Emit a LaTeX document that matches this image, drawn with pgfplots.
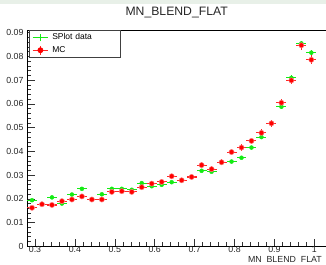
\documentclass[border=0pt]{standalone}
\usepackage{pgfplots}
\usepackage{pgfplotstable}
\pgfplotsset{compat=1.18}
\usepackage{fontspec}
\setmainfont{Liberation Sans}
\definecolor{rgreen}{RGB}{20,235,20}
\definecolor{rred}{RGB}{255,0,0}
\definecolor{topband}{RGB}{232,240,232}

\pgfplotstableread{
x y ex ey
0.2925 0.0194 0.0125 0.00052
0.3175 0.0178 0.0125 0.00049
0.3425 0.0206 0.0125 0.00053
0.3675 0.0180 0.0125 0.00050
0.3925 0.0218 0.0125 0.00055
0.4175 0.0242 0.0125 0.00058
0.4425 0.0198 0.0125 0.00052
0.4675 0.0219 0.0125 0.00055
0.4925 0.0242 0.0125 0.00058
0.5175 0.0242 0.0125 0.00058
0.5425 0.0238 0.0125 0.00057
0.5675 0.0266 0.0125 0.00060
0.5925 0.0253 0.0125 0.00059
0.6175 0.0259 0.0125 0.00060
0.6425 0.0270 0.0125 0.00061
0.6675 0.0278 0.0125 0.00062
0.6925 0.0292 0.0125 0.00063
0.7175 0.0318 0.0125 0.00066
0.7425 0.0314 0.0125 0.00066
0.7675 0.0353 0.0125 0.00070
0.7925 0.0357 0.0125 0.00070
0.8175 0.0373 0.0125 0.00071
0.8425 0.0416 0.0125 0.00075
0.8675 0.0460 0.0125 0.00079
0.8925 0.0518 0.0125 0.00084
0.9175 0.0588 0.0125 0.00090
0.9425 0.0710 0.0125 0.00099
0.9675 0.0855 0.0125 0.00108
0.9925 0.0816 0.0125 0.00106
}\greendata

\pgfplotstableread{
x y ex ey
0.2925 0.0162 0.0125 0.00083
0.3175 0.0177 0.0125 0.00086
0.3425 0.0174 0.0125 0.00086
0.3675 0.0190 0.0125 0.00090
0.3925 0.0197 0.0125 0.00091
0.4175 0.0210 0.0125 0.00094
0.4425 0.0197 0.0125 0.00091
0.4675 0.0197 0.0125 0.00091
0.4925 0.0229 0.0125 0.00098
0.5175 0.0232 0.0125 0.00099
0.5425 0.0229 0.0125 0.00098
0.5675 0.0249 0.0125 0.00103
0.5925 0.0264 0.0125 0.00106
0.6175 0.0271 0.0125 0.00107
0.6425 0.0295 0.0125 0.00112
0.6675 0.0278 0.0125 0.00108
0.6925 0.0292 0.0125 0.00111
0.7175 0.0342 0.0125 0.00120
0.7425 0.0325 0.0125 0.00117
0.7675 0.0354 0.0125 0.00122
0.7925 0.0397 0.0125 0.00130
0.8175 0.0416 0.0125 0.00133
0.8425 0.0444 0.0125 0.00137
0.8675 0.0478 0.0125 0.00142
0.8925 0.0518 0.0125 0.00148
0.9175 0.0605 0.0125 0.00160
0.9425 0.0699 0.0125 0.00172
0.9675 0.0847 0.0125 0.00189
0.9925 0.0786 0.0125 0.00182
}\reddata

\begin{document}
\begin{tikzpicture}
\begin{axis}[
  name=a,
  scale only axis,
  width=299pt, height=216pt,
  xmin=0.28, xmax=1.03, ymin=0, ymax=0.09114,
  xtick={0.3,0.4,0.5,0.6,0.7,0.8,0.9,1},
  ytick={0,0.01,0.02,0.03,0.04,0.05,0.06,0.07,0.08,0.09},
  minor x tick num=4, minor y tick num=4,
  tick align=inside, tick pos=left,
  major tick length=7.5pt, minor tick length=4pt,
  scaled x ticks=false, scaled y ticks=false,
  /pgf/number format/assume math mode=true,
  xticklabel style={yshift=3.6pt, /pgf/number format/.cd, fixed, precision=1},
  yticklabel style={/pgf/number format/.cd, fixed, precision=2},
  ticklabel style={font=\fontsize{8.8}{10}\selectfont, text=black!85},
  axis line style={line width=0.5pt, black},
  every tick/.style={black!80, line width=0.5pt},
  xlabel={MN\phantom{\_}BLEND\phantom{\_}FLAT},
  xlabel style={at={(rel axis cs:1,0)}, anchor=base east, yshift=-16.4pt, xshift=-1pt, font=\fontsize{8.8}{10}\selectfont, text=black!85},
  title={MN\_BLEND\_FLAT},
  title style={at={(rel axis cs:0.5,1)}, anchor=base, yshift=8.5pt, font=\fontsize{12.2}{14}\selectfont, text=black!85},
  legend style={at={(rel axis cs:0.0057,1)}, anchor=north west, draw=black!75, line width=0.6pt, fill=white,
    inner xsep=3pt, inner ysep=1.5pt, row sep=1pt, column sep=1.5pt,
    font=\fontsize{8.5}{10}\selectfont,
    nodes={inner sep=2pt, text width=63pt, align=left}},
  legend cell align=left,
]
\addplot[only marks, mark=none, rgreen,
  legend image code/.code={
    \draw[rgreen, line width=0.9pt] (0pt,0pt) -- (15.6pt,0pt);
    \draw[rgreen, line width=0.9pt] (7.8pt,-3.5pt) -- (7.8pt,3.5pt);},
  error bars/.cd, x dir=both, x explicit, y dir=both, y explicit,
  error mark=none, error bar style={line width=0.9pt, rgreen}]
  table[x=x, y=y, x error=ex, y error=ey] {\greendata};
\addlegendentry{SPlot data}
\addplot[only marks, mark=*, mark size=2.6pt, mark options={fill=rred, draw=rred!50, line width=0.5pt}, rred,
  legend image code/.code={
    \draw[rred!85, line width=1.1pt] (0pt,0pt) -- (15.6pt,0pt);
    \draw[rred!85, line width=1.1pt] (7.8pt,-4.5pt) -- (7.8pt,4.5pt);
    \fill[rred] (7.8pt,0pt) circle (2.6pt);},
  error bars/.cd, x dir=both, x explicit, y dir=both, y explicit,
  error mark=none, error bar style={line width=1.1pt, rred!85}]
  table[x=x, y=y, x error=ex, y error=ey] {\reddata};
\addlegendentry{MC}
\end{axis}
\fill[topband] ([xshift=-27pt,yshift=26.5pt]a.north west) rectangle ([yshift=30pt]a.north east);
\pgfresetboundingbox
\path[use as bounding box] ([xshift=-27pt,yshift=-18pt]a.south west) rectangle ([xshift=-0.3pt,yshift=30pt]a.north east);
\end{tikzpicture}
\end{document}
